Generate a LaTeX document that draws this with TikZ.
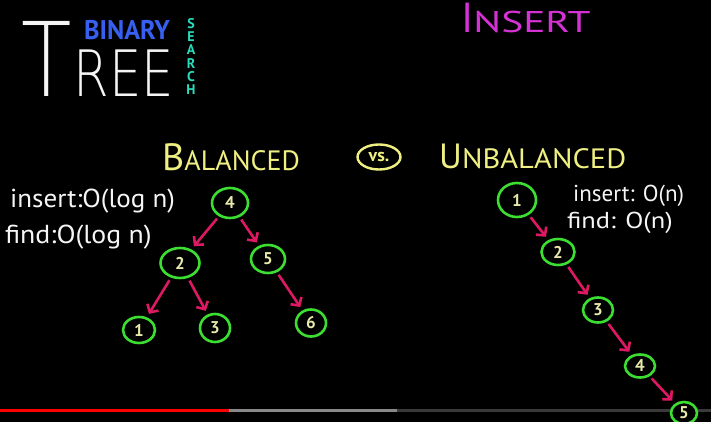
\documentclass[tikz,border=0pt]{standalone}
\usepackage{fontspec}
\usepackage{graphicx}
\setmainfont{PT Sans}
\IfFontExistsTF{DejaVu Sans ExtraLight}{\newfontfamily\thinfont{DejaVu Sans ExtraLight}}{\newfontfamily\thinfont{DejaVu Sans}}
\usetikzlibrary{arrows.meta,shapes.geometric}
\definecolor{ngreen}{RGB}{60,222,50}
\definecolor{nlabel}{RGB}{232,232,170}
\definecolor{apink}{RGB}{222,25,100}
\definecolor{hyellow}{RGB}{240,240,130}
\definecolor{tblue}{RGB}{55,95,240}
\definecolor{tteal}{RGB}{40,222,190}
\definecolor{tmag}{RGB}{212,50,212}
\definecolor{twhite}{RGB}{245,245,245}
\definecolor{barred}{RGB}{255,0,0}
\definecolor{bargray}{RGB}{136,136,136}
\definecolor{bardark}{RGB}{58,58,58}
\tikzset{
  nd/.style={ellipse, draw=ngreen, line width=2.6pt, fill=black, inner sep=0pt,
    text=nlabel, font=\bfseries\fontsize{17}{17}\selectfont},
  arr/.style={draw=apink, line width=2.6pt, -{Straight Barb[length=6pt,width=13pt]},
    shorten <=3pt, shorten >=4pt},
  txt/.style={anchor=base west, inner sep=0pt, text=twhite},
  head/.style={anchor=base west, inner sep=0pt, text=hyellow},
  barline/.style={line width=3pt}
}
\begin{document}
\begin{tikzpicture}[x=1pt,y=-1pt]
\fill[black] (0,0) rectangle (711,422);
\path[use as bounding box] (0,0) rectangle (711,422);

% progress bar
\coordinate (p0) at (0,410.5);
\coordinate (p1) at (229,410.5);
\coordinate (p2) at (397,410.5);
\coordinate (p3) at (711,410.5);
\draw[barline, barred] (p0) -- (p1);
\draw[barline, bargray] (p1) -- (p2);
\draw[barline, bardark] (p2) -- (p3);

% title
\node[txt] (treeT) at (21,97) {\scalebox{0.8}[1]{\thinfont\fontsize{103}{103}\selectfont T}};
\node[txt] (treeR) at ([xshift=2pt]treeT.base east) {\scalebox{0.8}[1]{\thinfont\fontsize{64}{64}\selectfont REE}};
\node[anchor=base west, inner sep=0pt, text=tblue, font=\bfseries\fontsize{27}{27}\selectfont] (binary) at (84,40) {\scalebox{0.97}[1]{BINARY}};
\node[anchor=north, inner sep=0pt, text=tteal, align=center, font=\bfseries\fontsize{14}{13.3}\selectfont] (search) at (191,18) {S\\E\\A\\R\\C\\H};

\node[anchor=base west, inner sep=0pt, text=tmag] (insert) at (461,33) {\fontsize{42}{42}\selectfont I\fontsize{30}{30}\selectfont\scalebox{1.38}[1]{NSERT}};

% headings
\node[head] (bal) at (162,170) {\fontsize{38}{38}\selectfont B\fontsize{28}{28}\selectfont\scalebox{1.0}[1]{ALANCED}};
\node[ellipse, draw=hyellow, line width=2.4pt, minimum width=43pt, minimum height=25pt, inner sep=0pt, text=hyellow, font=\bfseries\fontsize{18}{18}\selectfont] (vs) at (379,157) {vs.};
\node[head] (unbal) at (439,168) {\fontsize{35}{35}\selectfont U\fontsize{28}{28}\selectfont\scalebox{1.09}[1]{NBALANCED}};

% complexity texts
\node[txt, font=\fontsize{26}{26}\selectfont] (ins1) at (10,207) {\scalebox{1.04}[1]{insert:O(log n)}};
\node[txt, font=\fontsize{26}{26}\selectfont] (find1) at (5,243) {\scalebox{1.07}[1]{find:O(log n)}};
\node[txt, font=\fontsize{23}{23}\selectfont] (ins2) at (573,201) {insert: O(n)};
\node[txt, font=\fontsize{23}{23}\selectfont] (find2) at (567,228) {\scalebox{1.15}[1]{find: O(n)}};

% balanced tree
\node[nd, minimum width=36pt, minimum height=30pt] (b4) at (230,203) {4};
\node[nd, minimum width=39pt, minimum height=30pt] (b2) at (180,263) {2};
\node[nd, minimum width=34pt, minimum height=28pt] (b5) at (268,259) {5};
\node[nd, minimum width=32pt, minimum height=26pt] (b1) at (139,330) {1};
\node[nd, minimum width=30pt, minimum height=28pt] (b3) at (215,328) {3};
\node[nd, minimum width=30pt, minimum height=27pt] (b6) at (311,323) {6};
\draw[arr] (b4) -- (b2);
\draw[arr] (b4) -- (b5);
\draw[arr] (b2) -- (b1);
\draw[arr] (b2) -- (b3);
\draw[arr] (b5) -- (b6);

% unbalanced tree
\node[nd, minimum width=38pt, minimum height=34pt] (u1) at (517,200) {1};
\node[nd, minimum width=33pt, minimum height=26pt] (u2) at (558,252) {2};
\node[nd, minimum width=30pt, minimum height=25pt] (u3) at (598,310) {3};
\node[nd, minimum width=30pt, minimum height=23pt] (u4) at (640,366) {4};
\node[nd, minimum width=26pt, minimum height=22pt] (u5) at (684,413) {5};
\draw[arr] (u1) -- (u2);
\draw[arr] (u2) -- (u3);
\draw[arr] (u3) -- (u4);
\draw[arr] (u4) -- (u5);
\end{tikzpicture}
\end{document}
